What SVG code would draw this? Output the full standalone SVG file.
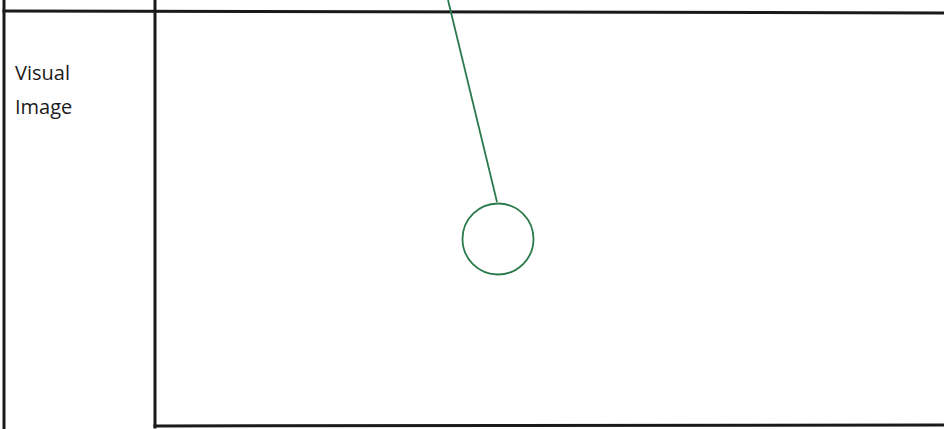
<svg xmlns="http://www.w3.org/2000/svg" width="944" height="429" viewBox="0 0 944 429">
<style>
.frame{stroke:#1a1a1a;stroke-width:3;fill:none;stroke-linecap:square}
.green{stroke:#2b7a4b;stroke-width:1.8;fill:none}
.lbl{font-family:"Open Sans","Noto Sans",sans-serif;font-size:20px;fill:#1a1a1a}
</style>
<rect width="944" height="429" fill="#ffffff"/>
<g id="table">
<line class="frame" x1="4" y1="11" x2="944" y2="13"/>
<line class="frame" x1="4" y1="0" x2="4" y2="429"/>
<line class="frame" x1="155" y1="0" x2="155" y2="427"/>
<line class="frame" x1="155" y1="426" x2="944" y2="425"/>
</g>
<g id="label">
<text class="lbl" x="15" y="80">Visual</text>
<text class="lbl" x="15" y="114">Image</text>
</g>
<g id="connectors">
<line class="green" x1="448" y1="0" x2="497" y2="202"/>
</g>
<g id="node-circle">
<circle class="green" cx="498" cy="239" r="35.5"/>
</g>
</svg>
